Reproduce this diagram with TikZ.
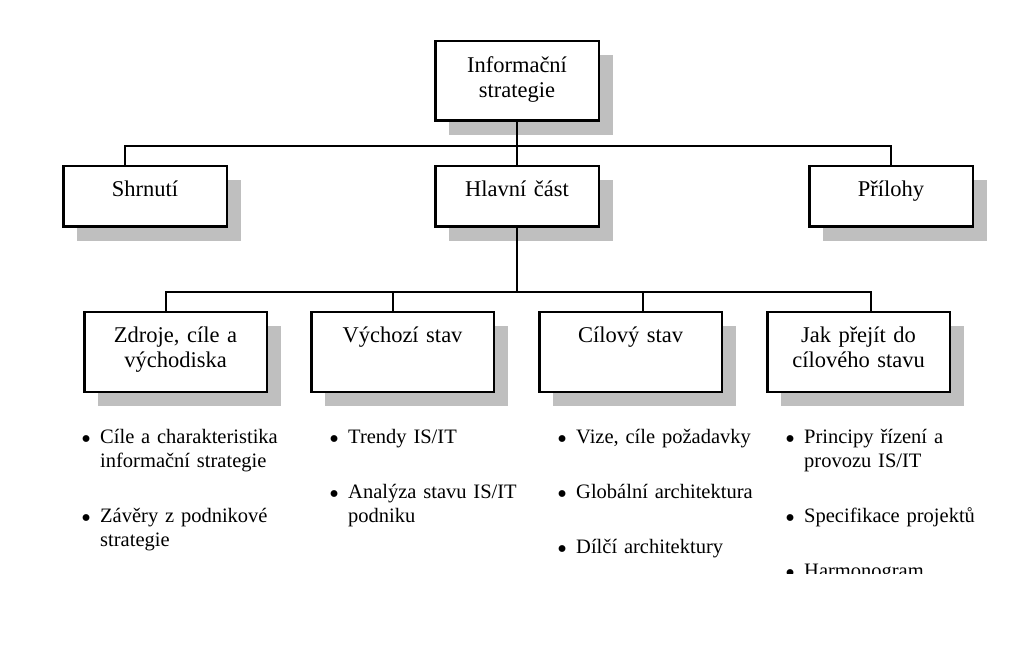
\documentclass[tikz,border=0pt]{standalone}
\usepackage{fontspec}
\setmainfont{Liberation Serif}
\usepackage{graphicx}
\usepackage{tikz}
\usetikzlibrary{positioning,shadows}
\newcommand{\bul}{\makebox[19pt][l]{\raisebox{-5.5pt}{\scalebox{1.4}{\textbullet}}}}
\newcommand{\ind}{\hspace*{19pt}}

\begin{document}
\begin{tikzpicture}[x=1pt, y=1pt]
\tikzset{%
	box/.style = {rectangle, draw=black, line width=2.5pt, fill=white, minimum width=163.5pt,
		drop shadow={shadow xshift=14pt, shadow yshift=-14pt, fill=gray!50, opacity=1}},
	bigbox/.style = {box, minimum width=182.5pt, minimum height=80pt},
	boxtext/.style = {text width=175pt, align=center, inner sep=0pt, anchor=base, font=\fontsize{22.5}{25}\selectfont},
	list/.style = {text width=240pt, align=left, inner sep=0pt, anchor=base west, font=\fontsize{20.5}{24}\selectfont},
	conn/.style = {line width=2pt}
}
\useasboundingbox (0,0) rectangle (1036,651);

\node(info) [box, minimum height=79.5pt, anchor=north west] at (434,611) {};
\node(infot) [boxtext] at ([yshift=-33pt]info.north) {Informační\\strategie};

\node(hlavni) [box, minimum height=60.5pt, below=43pt of info] {};
\node(hlavnit) [boxtext] at ([yshift=-32pt]hlavni.north) {Hlavní část};
\node(shrnuti) [box, minimum height=60.5pt, left=206pt of hlavni] {};
\node(shrnutit) [boxtext] at ([yshift=-32pt]shrnuti.north) {Shrnutí};
\node(prilohy) [box, minimum height=60.5pt, right=208pt of hlavni] {};
\node(prilohyt) [boxtext] at ([yshift=-32pt]prilohy.north) {Přílohy};

\node(cilovy) [bigbox, below=83pt of hlavni.south, anchor=north west, xshift=21pt] {};
\node(cilovyt) [boxtext] at ([yshift=-32pt]cilovy.north) {Cílový stav};
\node(vychozi) [bigbox, left=43pt of cilovy] {};
\node(vychozit) [boxtext] at ([yshift=-32pt]vychozi.north) {Výchozí stav};
\node(zdroje) [bigbox, left=42pt of vychozi] {};
\node(zdrojet) [boxtext] at ([yshift=-32pt]zdroje.north) {Zdroje, cíle a\\východiska};
\node(jak) [bigbox, right=43pt of cilovy] {};
\node(jakt) [boxtext] at ([yshift=-32pt]jak.north) {Jak přejít do\\cílového stavu};

\draw [conn] (info.south) -- ++(0,-24) coordinate (bus1);
\draw [conn] (bus1) -| ([xshift=-20pt]shrnuti.north);
\draw [conn] (bus1) -- (hlavni.north);
\draw [conn] (bus1) -| (prilohy.north);

\draw [conn] (hlavni.south) -- ++(0,-64) coordinate (bus2);
\draw [conn] (bus2) -| ([xshift=-10pt]zdroje.north);
\draw [conn] (bus2) -| ([xshift=-10pt]vychozi.north);
\draw [conn] (bus2) -| ([xshift=12pt]cilovy.north);
\draw [conn] (bus2) -| ([xshift=12pt]jak.north);

\node(zdrojel) [list] at ([xshift=-2pt, yshift=-50pt]zdroje.south west) {%
	\bul Cíle a charakteristika\\ \ind informační strategie\\[31pt]
	\bul Závěry z podnikové\\ \ind strategie};
\node(vychozil) [list] at ([xshift=19pt, yshift=-50pt]vychozi.south west) {%
	\bul Trendy IS/IT\\[31pt]
	\bul Analýza stavu IS/IT\\ \ind podniku};
\node(cilovyl) [list] at ([xshift=19pt, yshift=-50pt]cilovy.south west) {%
	\bul Vize, cíle požadavky\\[31pt]
	\bul Globální architektura\\[31pt]
	\bul Dílčí architektury};
\begin{scope}
	\clip (0,78) rectangle (1036,651);
	\node(jakl) [list] at ([xshift=19pt, yshift=-50pt]jak.south west) {%
		\bul Principy řízení a\\ \ind provozu IS/IT\\[31pt]
		\bul Specifikace projektů\\[31pt]
		\bul Harmonogram};
\end{scope}
\end{tikzpicture}
\end{document}
